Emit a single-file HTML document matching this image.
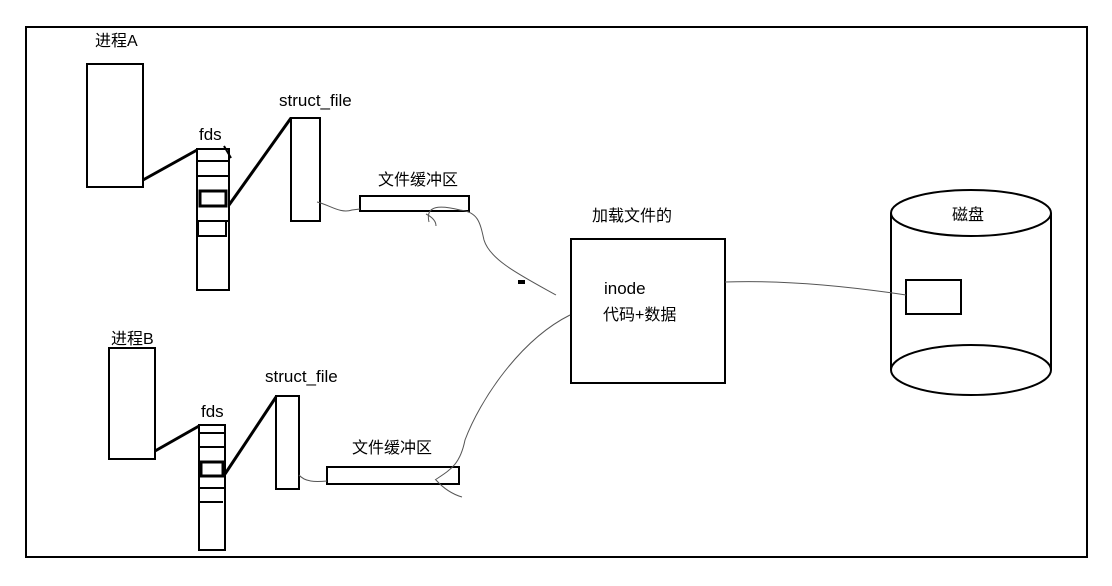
<!DOCTYPE html>
<html><head><meta charset="utf-8"><style>
body{margin:0;background:#fff;width:1112px;height:581px;overflow:hidden}
svg text{font-family:"Liberation Sans","Noto Sans CJK SC",sans-serif;font-size:16px;fill:#000}
svg text.l{font-size:17px}
</style></head><body>
<svg width="1112" height="581" viewBox="0 0 1112 581">
<rect x="0" y="0" width="1112" height="581" fill="#fff"/>
<rect x="26" y="27" width="1061" height="530" fill="none" stroke="#000" stroke-width="2"/>
<g fill="none" stroke="#000" stroke-width="2">
<rect x="87" y="64" width="56" height="123"/>
<rect x="197" y="149" width="32" height="141"/>
<line x1="197" y1="161" x2="229" y2="161"/><line x1="197" y1="176" x2="229" y2="176"/>
<rect x="200" y="191" width="26" height="15" stroke-width="3"/>
<line x1="197" y1="221" x2="229" y2="221"/><rect x="198" y="221" width="28" height="15"/>
<line x1="143" y1="180" x2="197" y2="150" stroke-width="3"/>
<path d="M224 146 L231 158" stroke-width="2"/>
<line x1="229" y1="205" x2="291" y2="118" stroke-width="3"/>
<rect x="291" y="118" width="29" height="103"/>
<rect x="360" y="196" width="109" height="15"/>
<rect x="109" y="348" width="46" height="111"/>
<rect x="199" y="425" width="26" height="125"/>
<line x1="199" y1="433" x2="225" y2="433"/><line x1="199" y1="447" x2="225" y2="447"/>
<rect x="201" y="462" width="22" height="14" stroke-width="3"/>
<line x1="199" y1="488" x2="225" y2="488"/><line x1="199" y1="502" x2="223" y2="502"/>
<line x1="155" y1="451" x2="199" y2="426" stroke-width="3"/>
<line x1="225" y1="474" x2="276" y2="397" stroke-width="3"/>
<rect x="276" y="396" width="23" height="93"/>
<rect x="327" y="467" width="132" height="17"/>
<rect x="571" y="239" width="154" height="144"/>
<path d="M891 213 L891 370 M1051 213 L1051 370"/>
<ellipse cx="971" cy="213" rx="80" ry="23"/>
<ellipse cx="971" cy="370" rx="80" ry="25"/>
<rect x="906" y="280" width="55" height="34"/>
</g>
<g fill="none" stroke="#555" stroke-width="1">
<path d="M317 202 C330 205 340 214 352 210 L360 209"/>
<path d="M429 222 C425 205 440 205 460 210 C478 212 480 222 484 240 C490 260 520 275 556 295"/>
<path d="M426 214 C430 216 436 220 436 226"/>
<path d="M299 475 C305 482 315 482 327 481"/>
<path d="M435 480 C450 470 460 465 465 440 C480 400 520 340 570 315"/>
<path d="M436 480 C445 490 455 495 462 497"/>
<path d="M725 282 C780 280 840 285 906 295"/>
</g>
<rect x="518" y="280" width="7" height="4" fill="#000"/>
<text x="95" y="46">进程A</text>
<text class="l" x="199" y="140">fds</text>
<text class="l" x="279" y="106">struct_file</text>
<text x="378" y="185">文件缓冲区</text>
<text x="592" y="221">加载文件的</text>
<text class="l" x="604" y="294">inode</text>
<text x="603" y="320">代码+数据</text>
<text x="952" y="220">磁盘</text>
<text x="111" y="344">进程B</text>
<text class="l" x="201" y="417">fds</text>
<text class="l" x="265" y="382">struct_file</text>
<text x="352" y="453">文件缓冲区</text>
</svg>
</body></html>
